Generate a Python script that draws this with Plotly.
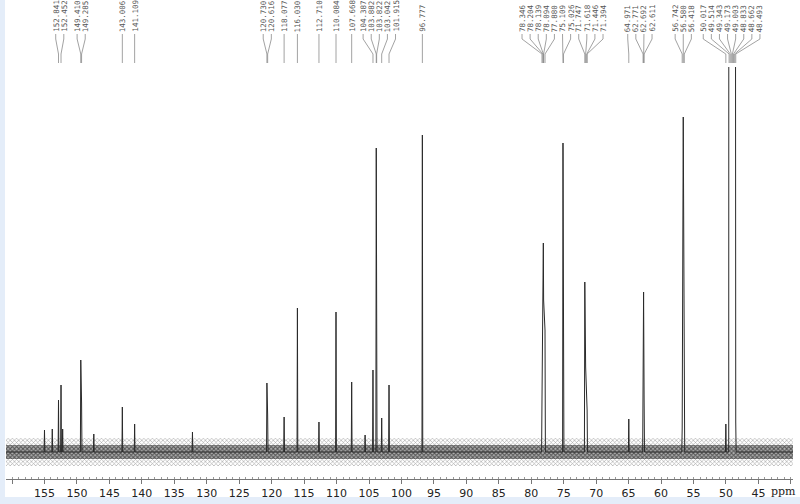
import plotly.graph_objects as go

# ---- data (13C NMR peak list) ----
label_ppm = [152.841, 152.452, 149.410, 149.285, 143.006, 141.109,
             120.730, 120.616, 118.077, 116.030, 112.710, 110.084, 107.668,
             104.387, 103.882, 103.822, 103.042, 101.915, 96.777,
             78.346, 78.204, 78.139, 78.094, 77.880, 75.109, 75.026,
             71.747, 71.618, 71.446, 71.394, 64.971, 62.771, 62.692, 62.611,
             56.742, 56.580, 56.418,
             50.017, 49.514, 49.343, 49.173, 49.003, 48.833, 48.662, 48.493]
label_height = [52, 67, 92, 49, 45, 28,
                69, 37, 35, 144, 30, 140, 70,
                82, 304, 200, 34, 67, 317,
                52, 180, 209, 152, 122, 309, 92,
                170, 85, 52, 42, 33, 145, 160, 52,
                24, 335, 139,
                28, 2000, 2000, 2000, 2000, 2000, 2000, 30]
minor_ppm = [155.0, 153.8, 152.2, 147.4, 132.2, 105.6]
minor_height = [22, 23, 23, 18, 20, 17]
tick_values = [160, 155, 150, 145, 140, 135, 130, 125, 120, 115, 110, 105,
               100, 95, 90, 85, 80, 75, 70, 65, 60, 55, 50, 45, 40]
tick_labels = ["" if v in (160, 40) else str(v) for v in tick_values]

# ---- geometry / style ----
X_RANGE = [160.93, 39.67]
PLOT_W = 787.0
PX_PER_PPM = PLOT_W / (X_RANGE[0] - X_RANGE[1])
LABEL_GAP_PPM = 8.1 / PX_PER_PPM
NOISE_OUT, NOISE_IN = 14, 7

# spectrum polyline built from the peak list
peaks = sorted(zip(label_ppm + minor_ppm, label_height + minor_height), key=lambda t: -t[0])
d = 0.06
sx, sy = [X_RANGE[0]], [0]
prev = None
for p, h in peaks:
    if prev is None or prev - p > 0.25:
        if prev is not None:
            sx.append(prev - d); sy.append(0)
        sx.append(p + d); sy.append(0)
    sx.append(p); sy.append(h)
    prev = p
sx += [prev - d, X_RANGE[1]]
sy += [0, 0]

# label placement: spread labels with a minimum spacing, centred on their peaks
groups = []
for p in label_ppm:  # descending
    groups.append([p])
    while len(groups) > 1:
        g1, g2 = groups[-2], groups[-1]
        c1 = sum(g1) / len(g1); c2 = sum(g2) / len(g2)
        right1 = c1 - (len(g1) - 1) / 2 * LABEL_GAP_PPM
        left2 = c2 + (len(g2) - 1) / 2 * LABEL_GAP_PPM
        if right1 - left2 < LABEL_GAP_PPM:
            groups[-2:] = [g1 + g2]
        else:
            break
label_x = []
for g in groups:
    c = sum(g) / len(g)
    n = len(g)
    for k in range(n):
        label_x.append(c + ((n - 1) / 2 - k) * LABEL_GAP_PPM)

fig = go.Figure()
# baseline noise band (textured)
def band(amp, pattern):
    fig.add_trace(go.Scatter(x=X_RANGE, y=[-amp, -amp], mode="lines", line=dict(width=0),
                             hoverinfo="skip", showlegend=False))
    fig.add_trace(go.Scatter(x=X_RANGE, y=[amp, amp], mode="lines", line=dict(width=0),
                             fill="tonexty", fillcolor="rgba(0,0,0,0)", fillpattern=pattern,
                             hoverinfo="skip", showlegend=False))

band(NOISE_OUT, dict(shape="x", size=3, solidity=0.35, fgcolor="#444", bgcolor="rgba(255,255,255,0)"))
band(NOISE_IN, dict(shape="x", size=3, solidity=0.6, fgcolor="#1e1e1e", bgcolor="rgba(110,110,110,0.55)"))
fig.add_trace(go.Scatter(x=sx, y=sy, mode="lines", line=dict(color="#2a2a2a", width=1),
                         showlegend=False))

# connectors
cx, cy = [], []
for lx, p in zip(label_x, label_ppm):
    cx += [lx, lx, p, p, None]
    cy += [34, 39, 54, 63, None]
fig.add_trace(go.Scatter(x=cx, y=cy, xaxis="x", yaxis="y2", mode="lines",
                         line=dict(color="#8a8a8a", width=0.8), showlegend=False, hoverinfo="skip"))

annotations = []
for lx, p in zip(label_x, label_ppm):
    annotations.append(dict(x=lx, y=33, xref="x", yref="y2", text=f"{p:.3f}", textangle=-90,
                            xanchor="center", yanchor="bottom", showarrow=False, borderpad=0,
                            font=dict(family="DejaVu Sans Mono", size=7.5, color="#555")))
annotations.append(dict(x=(783 - 6) / PLOT_W, y=-12 / 479, xref="paper", yref="paper", text="ppm",
                        showarrow=False, xanchor="center", yanchor="middle",
                        font=dict(family="DejaVu Serif", size=11, color="#222")))

blue = "#e4edf9"
shapes = [
    dict(type="rect", xref="paper", yref="paper", x0=-6 / PLOT_W, x1=-1 / PLOT_W,
         y0=-25 / 479, y1=1.01, fillcolor=blue, line=dict(width=0), layer="below"),
    dict(type="rect", xref="paper", yref="paper", x0=-6 / PLOT_W, x1=1 + 7 / PLOT_W,
         y0=-25 / 479, y1=-18 / 479, fillcolor=blue, line=dict(width=0), layer="below"),
]

split = (479 - 67) / 479
fig.update_layout(
    width=800, height=504, margin=dict(l=6, r=7, t=0, b=25),
    paper_bgcolor="white", plot_bgcolor="white",
    xaxis=dict(range=X_RANGE, showgrid=False, zeroline=False, showline=True, linecolor="#777",
               linewidth=1, ticks="outside", ticklen=4, tickcolor="#777",
               tickmode="array", tickvals=tick_values, ticktext=tick_labels,
               tickfont=dict(family="DejaVu Sans", size=11, color="#222"),
               minor=dict(tickmode="linear", tick0=0, dtick=1, ticks="inside", ticklen=2,
                          tickcolor="#999", showgrid=False),
               anchor="y", fixedrange=True, automargin=False),
    yaxis=dict(domain=[0, split], range=[-27, 385], visible=False, fixedrange=True),
    yaxis2=dict(domain=[split, 1], range=[67, 0], visible=False, anchor="x", fixedrange=True),
    annotations=annotations, shapes=shapes, showlegend=False,
)
fig.write_html("out.html", config={"displayModeBar": False},
               post_script="document.body.style.margin='0';document.body.style.overflow='hidden';")
